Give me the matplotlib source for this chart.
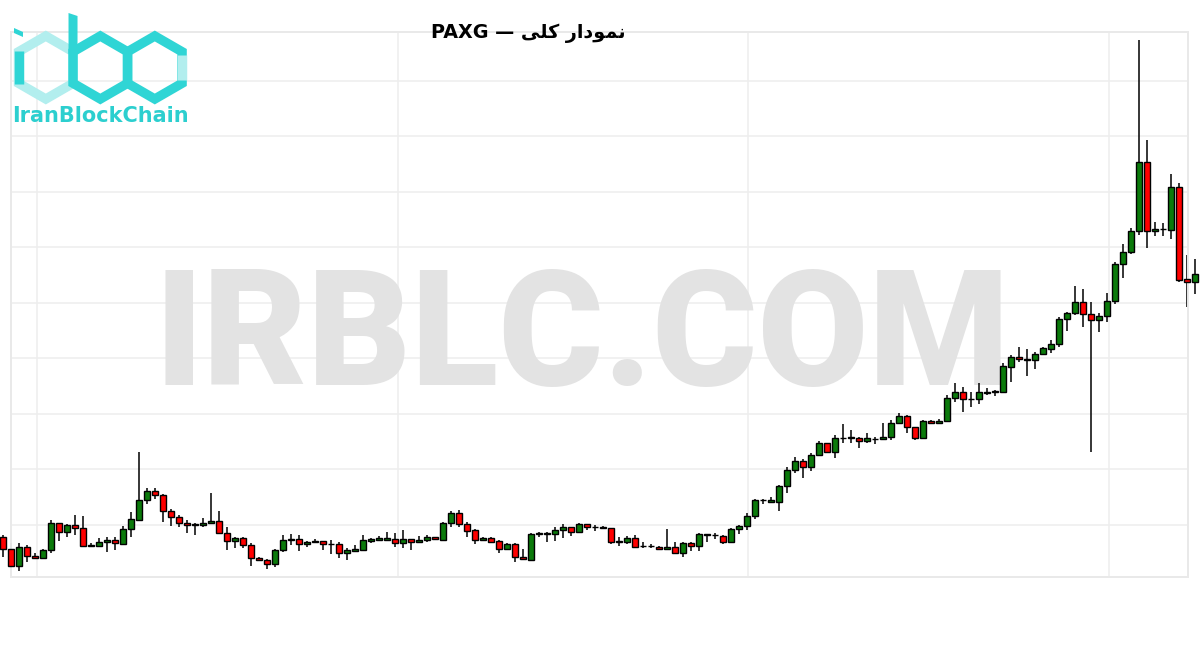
import numpy as np
import matplotlib
matplotlib.use("Agg")
import matplotlib.pyplot as plt
from matplotlib.patches import Polygon

# ---------------- data (price units) ----------------
opens = [63, 51, 34, 53, 44, 42, 50, 77, 68, 75,
         72, 54, 54, 58, 60, 56, 71, 80, 100, 109,
         105, 89, 83, 77, 75, 75, 77, 79, 67, 59,
         62, 55, 42, 40, 36, 50, 60, 61, 56, 58,
         59, 56, 56, 47, 49, 50, 59, 60, 60, 61,
         57, 61, 58, 60, 63, 60, 77, 87, 76, 70,
         60, 62, 59, 51, 56, 43, 40, 66, 66, 66,
         70, 73, 68, 76, 73, 72, 72, 58, 58, 62,
         54, 54, 53, 51, 53, 47, 57, 54, 65, 65,
         64, 58, 71, 74, 84, 100, 98, 98, 114, 130,
         139, 133, 145, 157, 148, 162, 162, 162, 159, 161,
         161, 163, 177, 184, 173, 162, 179, 177, 179, 202,
         208, 201, 201, 207, 208, 208, 233, 243, 240, 240,
         246, 251, 256, 281, 287, 298, 286, 280, 284, 299,
         336, 348, 369, 438, 369, 371, 370, 413, 321, 318]
closes = [51, 34, 53, 44, 42, 50, 77, 68, 75, 72,
          54, 55, 58, 60, 57, 71, 81, 100, 109, 105,
          89, 83, 77, 75, 76, 77, 79, 67, 59, 62,
          55, 42, 40, 36, 50, 60, 61, 56, 58, 59,
          56, 56, 47, 50, 51, 60, 61, 62, 62, 57,
          61, 58, 60, 63, 61, 77, 87, 76, 69, 60,
          62, 58, 51, 56, 43, 41, 66, 67, 67, 70,
          73, 68, 76, 73, 73, 73, 58, 59, 62, 53,
          54, 54, 51, 53, 47, 57, 54, 66, 66, 65,
          58, 71, 74, 84, 100, 100, 100, 114, 130, 139,
          133, 145, 157, 148, 162, 162, 163, 159, 162, 161,
          163, 177, 184, 173, 162, 179, 177, 179, 202, 208,
          201, 201, 208, 208, 209, 234, 243, 241, 241, 246,
          252, 256, 281, 287, 298, 286, 280, 284, 299, 336,
          348, 369, 438, 369, 371, 371, 413, 320, 318, 326]
highs = [65, 57, 57, 55, 47, 51, 80, 77, 76, 85,
         84, 57, 62, 63, 63, 74, 88, 148, 112, 112,
         106, 91, 85, 80, 77, 82, 107, 89, 73, 63,
         63, 57, 43, 41, 51, 65, 66, 65, 59, 61,
         59, 60, 58, 52, 55, 65, 62, 64, 68, 67,
         70, 61, 64, 65, 63, 78, 89, 90, 78, 71,
         63, 63, 60, 57, 57, 51, 67, 68, 68, 73,
         76, 73, 77, 76, 75, 74, 72, 63, 64, 65,
         58, 56, 54, 71, 58, 58, 58, 67, 66, 67,
         65, 72, 75, 87, 101, 101, 103, 115, 133, 143,
         141, 147, 159, 157, 165, 176, 170, 163, 167, 163,
         177, 180, 187, 185, 173, 180, 180, 181, 205, 217,
         213, 208, 217, 212, 210, 237, 245, 253, 251, 248,
         253, 260, 283, 288, 314, 311, 298, 287, 307, 338,
         356, 372, 560, 460, 378, 377, 426, 417, 345, 341]
lows = [43, 32, 29, 38, 41, 41, 47, 59, 63, 65,
        53, 53, 53, 48, 50, 56, 63, 79, 96, 101,
        78, 74, 73, 67, 65, 73, 77, 66, 50, 52,
        52, 34, 39, 31, 33, 48, 55, 49, 53, 57,
        50, 46, 42, 40, 48, 50, 57, 59, 59, 53,
        52, 50, 57, 58, 60, 60, 73, 73, 63, 56,
        59, 57, 47, 50, 38, 40, 40, 63, 58, 59,
        62, 64, 67, 70, 69, 71, 56, 54, 56, 52,
        52, 52, 50, 51, 46, 43, 49, 49, 58, 61,
        56, 57, 66, 70, 81, 96, 97, 89, 107, 127,
        122, 129, 144, 147, 142, 157, 157, 152, 157, 156,
        161, 160, 177, 167, 160, 162, 177, 176, 178, 198,
        188, 193, 196, 205, 204, 207, 218, 238, 224, 231,
        245, 247, 253, 269, 285, 273, 148, 268, 278, 296,
        322, 346, 365, 352, 364, 364, 361, 318, 293, 306]

title_fa = "نمودار کلی"
title_symbol = "PAXG"
watermark = "IRBLC.COM"
logo_text = "IranBlockChain"

# ---------------- simple Persian shaping (matplotlib has no shaper) ----------------
FORMS = {  # isolated, final, initial, medial
    'ن': ('\uFEE5', '\uFEE6', '\uFEE7', '\uFEE8'),
    'م': ('\uFEE1', '\uFEE2', '\uFEE3', '\uFEE4'),
    'و': ('\uFEED', '\uFEEE', None, None),
    'د': ('\uFEA9', '\uFEAA', None, None),
    'ا': ('\uFE8D', '\uFE8E', None, None),
    'ر': ('\uFEAD', '\uFEAE', None, None),
    'ک': ('\uFB8E', '\uFB8F', '\uFB90', '\uFB91'),
    'ل': ('\uFEDD', '\uFEDE', '\uFEDF', '\uFEE0'),
    'ی': ('\uFBFC', '\uFBFD', '\uFBFE', '\uFBFF'),
}


def shape_word(w):
    out = []
    for k, ch in enumerate(w):
        f = FORMS.get(ch)
        if f is None:
            out.append(ch)
            continue
        jp = k > 0 and w[k - 1] in FORMS and FORMS[w[k - 1]][2] is not None
        jn = k < len(w) - 1 and w[k + 1] in FORMS and f[2] is not None
        if jp and jn:
            out.append(f[3])
        elif jp:
            out.append(f[1])
        elif jn:
            out.append(f[2])
        else:
            out.append(f[0])
    return "".join(reversed(out))


fa_visual = " ".join(shape_word(w) for w in reversed(title_fa.split()))
title_visual = f"{title_symbol} \u2014 {fa_visual}"

# ---------------- figure ----------------
W, H = 1200, 650
fig = plt.figure(figsize=(W / 100, H / 100), dpi=100)
fig.patch.set_facecolor("white")

ax = fig.add_axes([11 / W, 73 / H, 1177 / W, 545 / H])
ax.set_xlim(1.0, 148.125)
ax.set_ylim(23, 568)
ax.set_xticks([4.25, 49.4, 93.1, 138.25])
ax.set_yticks(np.arange(75.5, 521, 55.5))
ax.tick_params(length=0, labelbottom=False, labelleft=False)
ax.set_axisbelow(True)
ax.grid(True, color="#eeeeee", lw=1.1)
for s in ax.spines.values():
    s.set_color("#e9e9e9")
    s.set_linewidth(1.4)

o = np.array(opens, float)
c = np.array(closes, float)
h = np.array(highs, float)
l = np.array(lows, float)
x = np.arange(len(o))
up = c >= o
colors = np.where(up, "#0b7a0b", "#ff0000")

ax.vlines(x, l, h, color="black", lw=1.1, zorder=2, clip_on=False)
ax.bar(x, np.abs(c - o), bottom=np.minimum(o, c), width=0.74, color=colors,
       edgecolor="black", linewidth=1.0, zorder=3, clip_on=False)

# watermark
wm = ax.text(582.5 / W, 265 / H, watermark, transform=fig.transFigure,
             ha="center", va="baseline", fontsize=100, family="Roboto",
             weight="black", color="#e3e3e3", zorder=1)
fig.canvas.draw()
bb = wm.get_window_extent()
wm.set_fontsize(100 * 855 / bb.width)

# title
fig.text(528 / W, (H - 38.3) / H, title_visual, ha="center", va="baseline",
         fontsize=13.8, weight="bold", family=["DejaVu Sans"])

# ---------------- logo ----------------
lax = fig.add_axes([0, 0, 1, 1], zorder=5)
lax.set_xlim(0, W)
lax.set_ylim(H, 0)
lax.axis("off")
lax.patch.set_alpha(0)

DARK = "#2fd5d5"
LIGHT = "#b2eeee"
r = 31.5
hw = np.sqrt(3) / 2 * r
cy = 67.5
lw = 6.8


def hexv(cx):
    return [(cx, cy - r), (cx + hw, cy - r / 2), (cx + hw, cy + r / 2),
            (cx, cy + r), (cx - hw, cy + r / 2), (cx - hw, cy - r / 2)]


ci, cb, cc = 45.8, 100.3, 154.8
lax.add_patch(Polygon(hexv(ci), closed=True, fill=False, ec=LIGHT, lw=lw, joinstyle="miter"))
lax.add_patch(Polygon(hexv(cb), closed=True, fill=False, ec=DARK, lw=lw, joinstyle="miter"))
lax.add_patch(Polygon(hexv(cc), closed=True, fill=False, ec=DARK, lw=lw, joinstyle="miter"))
# i stem (left edge) dark, c opening (right edge) light
lax.plot([ci - hw, ci - hw], [cy - r / 2 - 1, cy + r / 2 + 1], color=DARK, lw=lw,
         solid_capstyle="butt")
lax.plot([cc + hw, cc + hw], [cy - r / 2 + 3, cy + r / 2 - 3], color=LIGHT, lw=lw,
         solid_capstyle="butt")
# b ascender
lax.add_patch(Polygon([(cb - hw - 4.5, 13), (cb - hw + 4.5, 16),
                       (cb - hw + 4.5, cy - r / 2 + 2), (cb - hw - 4.5, cy - r / 2 + 2)],
                      closed=True, fc=DARK, ec="none"))
# i dot
lax.add_patch(Polygon([(14, 28), (23, 32), (23, 37), (14, 33)], closed=True,
                      fc=DARK, ec="none"))

lt = fig.text(12 / W, (H - 122) / H, logo_text, ha="left", va="baseline",
              fontsize=13, weight="bold", family="DejaVu Sans", color="#2ccfcf")
fig.canvas.draw()
bb = lt.get_window_extent()
lt.set_fontsize(13 * 175 / bb.width)

fig.savefig("out.png", dpi=100, facecolor="white")
